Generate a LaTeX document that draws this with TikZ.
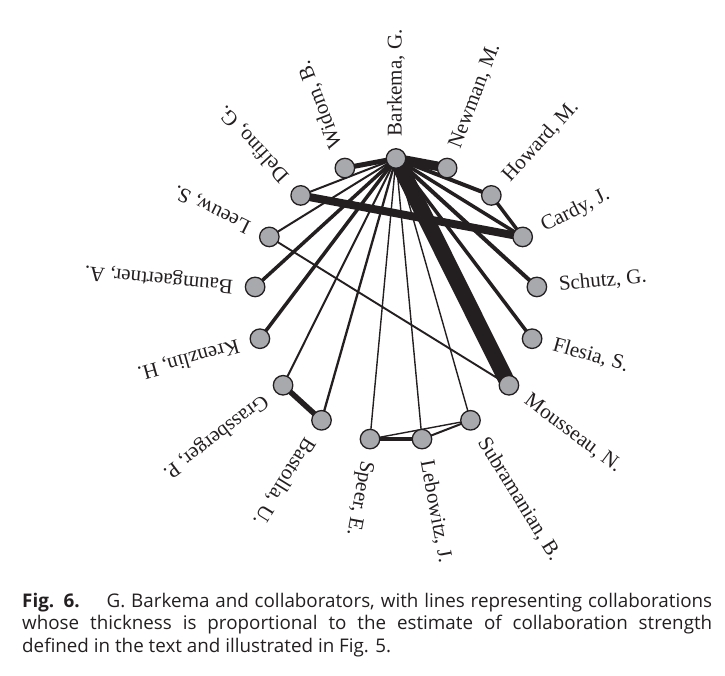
\documentclass[tikz,border=0pt]{standalone}
\usepackage{fontspec}
\setmainfont{Liberation Serif}
\newfontfamily\capfont{Open Sans}
\usetikzlibrary{backgrounds}
\definecolor{ink}{HTML}{231F20}
\definecolor{nodegray}{HTML}{A7A9AC}
\begin{document}
\begin{tikzpicture}[x=1pt,y=1pt,
  author/.style={circle, draw=ink, line width=1.3pt, fill=nodegray, minimum size=19.5pt, inner sep=0pt},
  lbl/.style={font=\fontsize{21}{24}\selectfont, inner sep=0pt, anchor=west, text=ink},
  link/.style={draw=ink, line width=#1},
  captext/.style={anchor=base west, inner sep=0pt, text=ink, font=\capfont\fontsize{18.8}{23}\selectfont}]
\useasboundingbox (0,0) rectangle (725,675);
\begin{scope}[shift={(396,375)}]
\foreach \k/\nm/\txt in {0/bark/{Barkema, G.}, 1/widom/{Widom, B.}, 2/delf/{Delfino, G.},
  3/leeuw/{Leeuw, S.}, 4/baum/{Baumgaertner, A.}, 5/krenz/{Krenzlin, H.},
  6/grass/{Grassberger, P.}, 7/bast/{Bastolla, U.}, 8/speer/{Speer, E.},
  9/lebo/{Lebowitz, J.}, 10/subra/{Subramanian, B.}, 11/mous/{Mousseau, N.},
  12/fles/{Flesia, S.}, 13/schutz/{Schutz, G.}, 14/cardy/{Cardy, J.},
  15/howard/{Howard, M.}, 16/newman/{Newman, M.}} {
  \pgfmathsetmacro\ang{90+\k*360/17}
  \node[author] (\nm) at (\ang:141.5) {};
  \node[lbl, rotate=\ang] (\nm-l) at (\ang:163.5) {\txt};
}
\end{scope}
\begin{pgfonlayer}{background}
\draw[link=16pt] (bark.center) -- (mous.center);
\draw[link=9.5pt] (bark.center) -- (newman.center);
\draw[link=8pt] (delf.center) -- (cardy.center);
\draw[link=5pt] (bark.center) -- (widom.center);
\draw[link=4pt] (bark.center) -- (howard.center);
\draw[link=3.5pt] (bark.center) -- (cardy.center);
\draw[link=3.5pt] (howard.center) -- (cardy.center);
\draw[link=4pt] (bark.center) -- (schutz.center);
\draw[link=3.5pt] (bark.center) -- (fles.center);
\draw[link=3.5pt] (bark.center) -- (krenz.center);
\draw[link=3.5pt] (bark.center) -- (baum.center);
\draw[link=2pt] (bark.center) -- (delf.center);
\draw[link=2pt] (bark.center) -- (leeuw.center);
\draw[link=1.9pt] (leeuw.center) -- (mous.center);
\draw[link=2pt] (bark.center) -- (grass.center);
\draw[link=2.3pt] (bark.center) -- (bast.center);
\draw[link=5.5pt] (grass.center) -- (bast.center);
\draw[link=1.4pt] (bark.center) -- (speer.center);
\draw[link=1.4pt] (bark.center) -- (lebo.center);
\draw[link=1.4pt] (bark.center) -- (subra.center);
\draw[link=4.5pt] (speer.center) -- (lebo.center);
\draw[link=1.4pt] (speer.center) -- (subra.center);
\draw[link=2pt] (lebo.center) -- (subra.center);
\end{pgfonlayer}
\node[captext] (cap1) at (22,68) {\makebox[690pt][s]{\textbf{Fig. 6.}\hspace{27pt}G. Barkema and collaborators, with lines representing collaborations}};
\node[captext] (cap2) at (22,46) {\makebox[690pt][s]{whose thickness is proportional to the estimate of collaboration strength}};
\node[captext] (cap3) at (22,23) {defined in the text and illustrated in Fig. 5.};
\end{tikzpicture}
\end{document}
